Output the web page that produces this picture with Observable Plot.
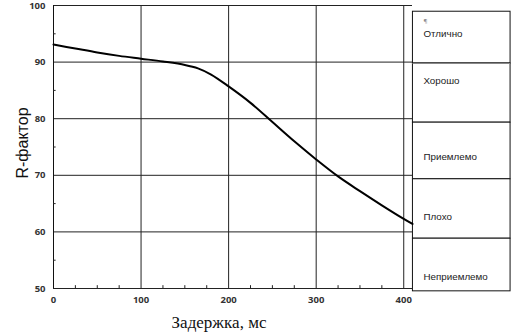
<!DOCTYPE html>
<html>
<head>
<meta charset="utf-8">
<script src="https://cdn.jsdelivr.net/npm/d3@7"></script>
<script src="https://cdn.jsdelivr.net/npm/@observablehq/plot@0.6"></script>
<style>
  html, body { margin: 0; padding: 0; background: #fff; }
  #chart svg { display: block; }
</style>
</head>
<body>
<div id="chart"></div>
<script>
// Curve: R-factor vs delay (ms)
const delay   = [0, 25, 50, 75, 100, 125, 150, 165, 180, 200, 225, 250, 275, 300, 325, 350, 375, 400, 410];
const rFactor = [93.1, 92.4, 91.7, 91.1, 90.6, 90.1, 89.5, 88.9, 87.8, 85.7, 82.8, 79.4, 76.0, 72.8, 69.8, 67.2, 64.7, 62.3, 61.4];

// Axis ticks
const xTicks = [0, 100, 200, 300, 400];
const yTicks = [50, 60, 70, 80, 90, 100];
const xMinor = [25, 50, 75, 125, 150, 175, 225, 250, 275, 325, 350, 375];
const yMinor = [55, 65, 75, 85, 95];

// Quality categories box (row boundaries in R-factor units)
const categories = ["Отлично", "Хорошо", "Приемлемо", "Плохо", "Неприемлемо"];
const rowTop     = [98.9, 89.75, 79.3, 69.3, 58.8];
const rowBottom  = [89.75, 79.3, 69.3, 58.8, 49.5];
const labelR     = [95.0, 86.6, 73.3, 62.7, 52.1];

const curve = delay.map((d, i) => ({delay: d, r: rFactor[i]}));
const rows = categories.map((c, i) => ({name: c, top: rowTop[i], bottom: rowBottom[i], label: labelR[i]}));

const xMax = 410;
const boxX1 = 410.5, boxX2 = 522, textX = 422.5;

const chart = Plot.plot({
  width: 512,
  height: 332,
  marginLeft: 53,
  marginRight: 100,
  marginTop: 5,
  marginBottom: 44,
  style: {background: "#fff", overflow: "visible"},
  x: {domain: [0, xMax]},
  y: {domain: [50, 100]},
  marks: [
    // box
    Plot.rect(rows, {x1: boxX1, x2: boxX2, y1: "bottom", y2: "top", fill: "#fff", stroke: "#111", strokeWidth: 1, clip: false}),
    Plot.ruleY([rows[0]], {y: "bottom", x1: boxX1, x2: boxX2, stroke: "#888", strokeWidth: 1.2, clip: false}),
    Plot.text(rows, {x: textX, y: "label", text: "name", textAnchor: "start", fontSize: 9.8, fill: "#222", fontFamily: "Liberation Sans, Arial, sans-serif", clip: false}),
    Plot.text(["¶"], {x: textX, y: 97.3, text: d => d, textAnchor: "start", fontSize: 6, fill: "#888", clip: false}),
    // grid
    Plot.ruleX(xTicks.filter(d => d > 0), {x: d => d, y1: 50, y2: 100, stroke: "#222", strokeWidth: 1}),
    Plot.ruleY(yTicks, {y: d => d, x1: 0, x2: xMax, stroke: "#222", strokeWidth: 1}),
    Plot.ruleX([0], {x: d => d, y1: 50, y2: 100, stroke: "#111", strokeWidth: 1}),
    // minor ticks
    Plot.ruleX(xMinor, {x: d => d, y1: 50, y2: 50.5, stroke: "#222"}),
    Plot.ruleY(yMinor, {y: d => d, x1: 0, x2: 3, stroke: "#222"}),
    // curve
    Plot.line(curve, {x: "delay", y: "r", curve: "catmull-rom", stroke: "#000", strokeWidth: 2}),
    // axes
    Plot.axisX(xTicks, {tickSize: 0, tickPadding: 8, fontSize: 9.5, fontWeight: "bold", fill: "#333", label: null}),
    Plot.axisY(yTicks, {tickSize: 0, tickPadding: 8, fontSize: 9.5, fontWeight: "bold", fill: "#333", label: null}),
    Plot.text(["R-фактор"], {frameAnchor: "left", dx: -31, dy: -4, rotate: -90, text: d => d, fontSize: 16, fill: "#111", fontFamily: "Liberation Sans, Arial, sans-serif", textAnchor: "middle"}),
    Plot.text(["Задержка, мс"], {frameAnchor: "bottom", dy: 39, dx: -14, text: d => d, fontSize: 17, fill: "#111", fontFamily: "Liberation Serif, Times New Roman, serif"})
  ]
});
document.getElementById("chart").appendChild(chart);
</script>
</body>
</html>
